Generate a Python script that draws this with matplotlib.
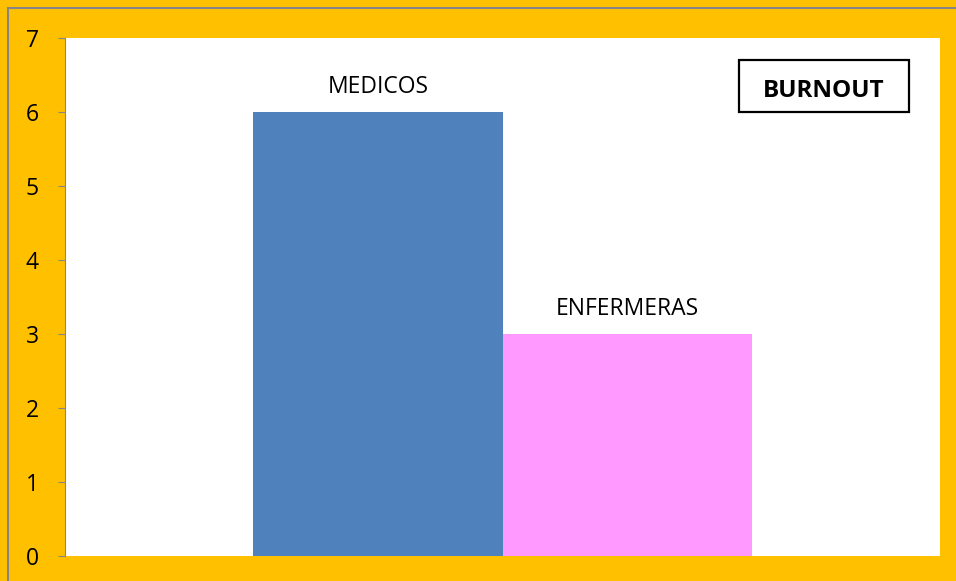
import matplotlib.pyplot as plt
from matplotlib.patches import Rectangle

# datos
series = ['MEDICOS', 'ENFERMERAS']
valores = [6, 3]
colores = ['#4F81BD', '#FF99FF']
yticks = [0, 1, 2, 3, 4, 5, 6, 7]
titulo = 'BURNOUT'

fig = plt.figure(figsize=(9.56, 5.81), dpi=100)
fig.patch.set_facecolor('#FFC000')
plt.rcParams['font.family'] = ['Open Sans', 'DejaVu Sans']

# borde gris del grafico
fig.add_artist(Rectangle((8 / 956, -0.1), 1.2, 1 - 8 / 581 + 0.1,
                         transform=fig.transFigure, fill=False,
                         edgecolor='#868686', linewidth=1.5))

ax = fig.add_axes([65 / 956, 1 - 556 / 581, 875 / 956, 518 / 581])
ax.set_facecolor('white')

ancho = 0.2846
posiciones = [-ancho / 2, ancho / 2]
barras = ax.bar(posiciones, valores, width=ancho, color=colores)

for b, nombre in zip(barras, series):
    ax.annotate(nombre, (b.get_x() + b.get_width() / 2, b.get_height()),
                xytext=(0, 9.5), textcoords='offset points',
                ha='center', va='bottom', fontsize=16.5)

ax.set_xlim(-0.5, 0.5)
ax.set_ylim(0, 7)
ax.set_yticks(yticks)
ax.set_xticks([])
ax.tick_params(axis='y', labelsize=16.5, length=5, color='#868686',
               labelcolor='black', pad=14)

for s in ['top', 'right', 'bottom']:
    ax.spines[s].set_visible(False)
ax.spines['left'].set_color('#868686')

# recuadro del titulo
fig.add_artist(Rectangle((739 / 956, 1 - 112 / 581), 170 / 956, 52 / 581,
                         transform=fig.transFigure, facecolor='white',
                         edgecolor='black', linewidth=1.6, zorder=5))
fig.text(824 / 956, 1 - 91 / 581, titulo, ha='center', va='center',
         fontsize=17.5, fontweight='bold', zorder=6)

plt.savefig('out.png', dpi=100, facecolor=fig.get_facecolor())
